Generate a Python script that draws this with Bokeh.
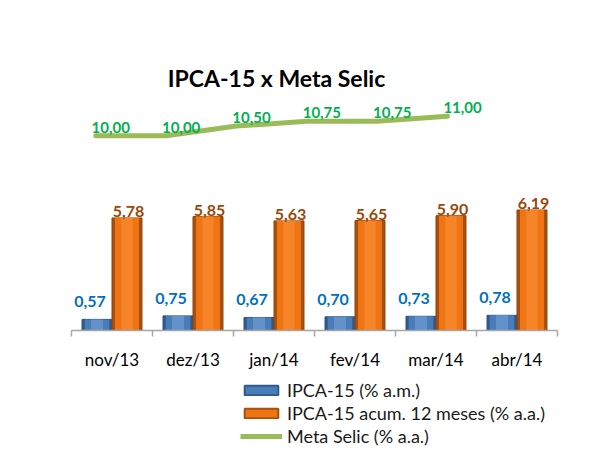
from bokeh.plotting import figure
from bokeh.layouts import column
from bokeh.models import (Range1d, FixedTicker, ColumnDataSource, Label, Legend, LegendItem)
from bokeh.transform import dodge
from bokeh.core.properties import value
from bokeh.embed import file_html
from bokeh.resources import INLINE

meses = ["nov/13", "dez/13", "jan/14", "fev/14", "mar/14", "abr/14"]
ipca_mensal = [0.57, 0.75, 0.67, 0.70, 0.73, 0.78]
ipca_12m = [5.78, 5.85, 5.63, 5.65, 5.90, 6.19]
selic = [10.00, 10.00, 10.50, 10.75, 10.75, 11.00]
series_names = ["IPCA-15 (% a.m.)", "IPCA-15 acum. 12 meses (% a.a.)", "Meta Selic (% a.a.)"]

def fmt(v):
    return f"{v:.2f}".replace(".", ",")

idx = list(range(len(meses)))
src = ColumnDataSource(dict(
    x=[i + 0.5 for i in idx],
    pos=idx,
    m=ipca_mensal, a=ipca_12m, s=selic,
    ml=[fmt(v) for v in ipca_mensal],
    al=[fmt(v) for v in ipca_12m],
    sl=[fmt(v) for v in selic],
))

FONT = "Lato"
BLUE_EDGE, BLUE_MID, BLUE_HI = "#2F5A8E", "#4A7CB8", "#6391CA"
OR_EDGE, OR_MID, OR_HI = "#A8500E", "#EE7414", "#F6852A"
GREEN = "#9BBB59"

p = figure(width=597, height=372, output_backend="svg", toolbar_location=None,
           x_range=Range1d(0, len(meses)), y_range=Range1d(0, 15),
           min_border_left=71, min_border_right=40, min_border_top=38, min_border_bottom=39)
p.extra_x_ranges = {"selic": Range1d(-0.345, 6.563)}
p.outline_line_color = None
p.xgrid.visible = False
p.ygrid.visible = False
p.yaxis.visible = False
p.background_fill_color = "white"
p.border_fill_color = "white"

ax = p.xaxis[0]
ax.ticker = FixedTicker(ticks=[i + 0.5 for i in idx], minor_ticks=list(range(len(meses) + 1)))
ax.major_label_overrides = {i + 0.5: m for i, m in enumerate(meses)}
ax.major_tick_line_color = None
ax.major_tick_out = 0
ax.major_tick_in = 0
ax.minor_tick_out = 6
ax.minor_tick_in = 0
ax.minor_tick_line_color = "#A6A6A6"
ax.axis_line_color = "#A6A6A6"
ax.axis_line_width = 1.5
ax.minor_tick_line_width = 1.5
ax.major_label_text_font = FONT
ax.major_label_text_font_size = "17px"
ax.major_label_text_color = "#000000"
ax.major_label_standoff = 12

W = 0.37
# blue bars (IPCA-15 mensal) with shading
p.vbar(x=dodge("x", -0.185), top="m", width=W, bottom=0, source=src,
       fill_color=BLUE_EDGE, line_color="#2A4F7C", line_width=1)
p.vbar(x=dodge("x", -0.185), top="m", width=W * 0.82, bottom=0, source=src,
       fill_color=BLUE_MID, line_color=None)
p.vbar(x=dodge("x", -0.185), top="m", width=W * 0.4, bottom=0, source=src,
       fill_color=BLUE_HI, line_color=None)

# orange bars (IPCA-15 acum 12 meses) with shading
p.vbar(x=dodge("x", 0.185), top="a", width=W, bottom=0, source=src,
       fill_color=OR_EDGE, line_color="#8C430B", line_width=1)
p.vbar(x=dodge("x", 0.185), top="a", width=W * 0.8, bottom=0, source=src,
       fill_color=OR_MID, line_color=None)
p.vbar(x=dodge("x", 0.185), top="a", width=W * 0.38, bottom=0, source=src,
       fill_color=OR_HI, line_color=None)

# Selic line
p.line(x="pos", y="s", source=src, x_range_name="selic",
       line_color=GREEN, line_width=5, line_cap="round", line_join="round")

# labels
p.text(x=dodge("x", -0.185), y="m", text="ml", source=src, text_align="center",
       text_baseline="bottom", x_offset=-7, y_offset=-12,
       text_font=value(FONT), text_font_style="bold", text_font_size="16px",
       text_color="#0070C0")
p.text(x=dodge("x", 0.185), y="a", text="al", source=src, text_align="center",
       text_baseline="bottom", x_offset=1.5, y_offset=-1,
       text_font=value(FONT), text_font_style="bold", text_font_size="16px",
       text_color="#984807")
p.text(x="pos", y="s", text="sl", source=src, x_range_name="selic", text_align="center",
       text_baseline="bottom", x_offset=15, y_offset=-3,
       text_font=value(FONT), text_font_style="bold", text_font_size="15px",
       text_color="#00B050")

# title
p.add_layout(Label(x=205, y=253, x_units="screen", y_units="screen",
                   text="IPCA-15 x Meta Selic", text_align="center",
                   text_baseline="alphabetic", text_font=FONT, text_font_style="bold",
                   text_font_size="23px", text_color="#000000"))

# legend figure (its renderers reference the chart data but are hidden)
q = figure(width=597, height=95, output_backend="svg", toolbar_location=None,
           x_range=Range1d(0, 1), y_range=Range1d(0, 1),
           min_border_left=71, min_border_right=40, min_border_top=0, min_border_bottom=0)
q.axis.visible = False
q.grid.visible = False
q.outline_line_color = None
q.background_fill_color = "white"
q.border_fill_color = "white"
rb = q.vbar(x="x", top="m", width=W, source=src, visible=False,
            fill_color=BLUE_MID, line_color=BLUE_EDGE, line_width=2)
ro = q.vbar(x="x", top="a", width=W, source=src, visible=False,
            fill_color=OR_MID, line_color=OR_EDGE, line_width=2)
rl = q.line(x="x", y="s", source=src, visible=False, line_color=GREEN, line_width=5)

legend = Legend(items=[
    LegendItem(label=series_names[0], renderers=[rb]),
    LegendItem(label=series_names[1], renderers=[ro]),
    LegendItem(label=series_names[2], renderers=[rl]),
], location=(169, 20), orientation="vertical")
legend.padding = 0
legend.margin = 0
legend.spacing = 1
legend.border_line_color = None
legend.background_fill_alpha = 0
legend.inactive_fill_alpha = 0
legend.glyph_width = 42
legend.glyph_height = 12
legend.label_height = 20
legend.label_standoff = 5
legend.label_text_font = FONT
legend.label_text_font_size = "18px"
legend.label_text_color = "#1A1A1A"
q.add_layout(legend, "center")

layout = column(p, q, spacing=0)
open("out.html", "w").write(file_html(layout, INLINE))
